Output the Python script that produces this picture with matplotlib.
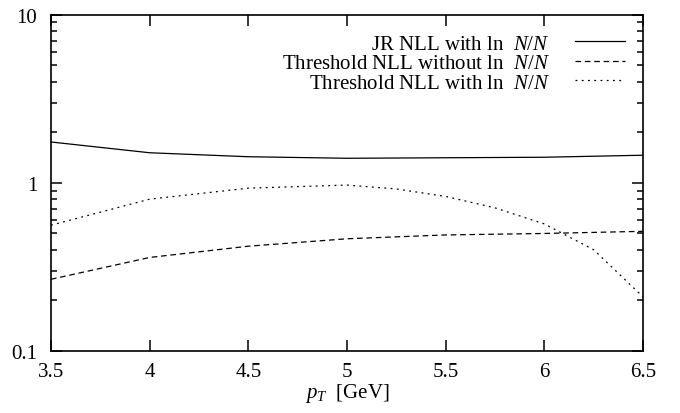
import numpy as np
import matplotlib
matplotlib.use('Agg')
import matplotlib.pyplot as plt

# data
pt_jr = [3.5, 4.0, 4.5, 5.0, 5.5, 6.0, 6.5]
jr_nll = [1.75, 1.51, 1.43, 1.40, 1.41, 1.42, 1.46]

pt_thr = [3.5, 4.0, 4.5, 5.0, 5.5, 6.0, 6.5]
thr_without = [0.267, 0.36, 0.42, 0.465, 0.49, 0.50, 0.515]

pt_thr_ln = [3.5, 4.0, 4.5, 5.0, 5.25, 5.5, 5.75, 6.0, 6.25, 6.5]
thr_with = [0.56, 0.80, 0.93, 0.97, 0.92, 0.83, 0.71, 0.57, 0.40, 0.21]

labels = [r'JR NLL with ln  $N/N$',
          r'Threshold NLL without ln  $N/N$',
          r'Threshold NLL with ln  $N/N$']
xticks = [3.5, 4, 4.5, 5, 5.5, 6, 6.5]
xticklabels = ['3.5', '4', '4.5', '5', '5.5', '6', '6.5']

plt.rcParams['font.family'] = ['Liberation Serif', 'DejaVu Serif']
plt.rcParams['mathtext.fontset'] = 'custom'
plt.rcParams['mathtext.it'] = 'Liberation Serif:italic'
plt.rcParams['mathtext.rm'] = 'Liberation Serif'
fs = 15

fig = plt.figure(figsize=(6.8, 4.14), dpi=100)
ax = fig.add_axes([51/680, 1-352/414, (643-51)/680, (352-15.7)/414])

ax.plot(pt_jr, jr_nll, color='black', lw=0.9, label=labels[0])
ax.plot(pt_thr, thr_without, color='black', lw=0.9, linestyle=(0, (4.5, 3)), label=labels[1])
ax.plot(pt_thr_ln, thr_with, color='black', lw=0.9, linestyle=(0, (1.5, 3.5)), label=labels[2])

ax.set_yscale('log')
ax.set_xlim(3.5, 6.5)
ax.set_ylim(0.1, 10)
ax.set_xticks(xticks)
ax.set_xticklabels(xticklabels)
ax.set_yticks([0.1, 1, 10])
ax.set_yticklabels(['0.1', '1', '10'])
ax.minorticks_on()
ax.xaxis.set_minor_locator(matplotlib.ticker.NullLocator())
ax.yaxis.set_minor_locator(matplotlib.ticker.LogLocator(subs=np.arange(2, 10)))
ax.yaxis.set_minor_formatter(matplotlib.ticker.NullFormatter())
ax.tick_params(which='both', direction='in', top=True, right=True, labelsize=fs, width=1.1)
ax.tick_params(which='major', length=8, pad=8)
ax.tick_params(axis='y', which='major', pad=10)
ax.tick_params(which='minor', length=4)
for s in ax.spines.values():
    s.set_linewidth(1.2)

ax.set_xlabel(r'$p_T$  [GeV]', fontsize=fs, labelpad=0)

ax.legend(loc='upper right', bbox_to_anchor=(625/680, 1-35/414), bbox_transform=fig.transFigure,
          frameon=False, markerfirst=False, fontsize=fs, handlelength=2.4, handletextpad=1.2,
          labelspacing=0.0, borderpad=0, borderaxespad=0)

fig.savefig('out.png', dpi=100)
